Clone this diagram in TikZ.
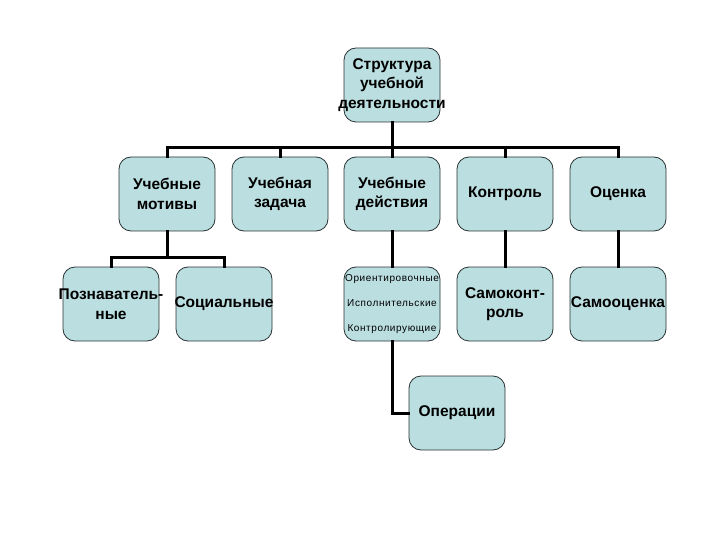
\documentclass[tikz,border=0pt]{standalone}
\usepackage{fontspec}
\setmainfont{Liberation Sans}
\usepackage{xcolor}
\definecolor{boxfill}{RGB}{187,222,224}
\definecolor{boxline}{RGB}{40,50,50}
\newcommand{\boxw}{96pt}
\newcommand{\boxh}{74pt}
\newcommand{\rowa}{-194}
\newcommand{\rowb}{-304}

\begin{document}
\begin{tikzpicture}[x=1pt, y=1pt,
    box/.style={draw=boxline, line width=0.8pt, fill=boxfill, rounded corners=12pt,
        minimum width=\boxw, minimum height=\boxh, inner ysep=0pt, inner xsep=-10pt,
        align=center, font=\fontsize{15.5}{19.5}\selectfont\bfseries},
    smallbox/.style={box, font=\fontsize{10}{25}\selectfont\addfontfeatures{LetterSpace=6}},
    link/.style={line width=3pt, line cap=rect}]
        \useasboundingbox (0, 0) rectangle (720, -540);

        % top
        \node[box] (struct) at (392, -85) {Структура\\учебной\\деятельности};

        % second row
        \node[box] (motives) at (167, \rowa) {Учебные\\мотивы};
        \node[box] (task) at (280, \rowa) {Учебная\\задача};
        \node[box] (actions) at (392, \rowa) {Учебные\\действия};
        \node[box] (control) at (505, \rowa) {Контроль};
        \node[box] (assess) at (618, \rowa) {Оценка};

        % third row
        \node[box] (cognitive) at (111, \rowb) {Познаватель-\\ные};
        \node[box] (social) at (224, \rowb) {Социальные};
        \node[smallbox] (kinds) at (392, \rowb) {Ориентировочные\\Исполнительские\\Контролирующие};
        \node[box] (selfcontrol) at (505, \rowb) {Самоконт-\\роль};
        \node[box] (selfassess) at (618, \rowb) {Самооценка};

        \node[box] (ops) at (457, -413) {Операции};

        % junctions
        \coordinate (bus) at (392, -148);
        \coordinate (mbus) at (167, -257);

        % connectors
        \draw[link] (struct.south) -- (bus);
        \foreach \child in {motives, task, actions, control, assess}
            \draw[link] (bus) -| (\child.north);
        \draw[link] (motives.south) -- (mbus);
        \foreach \child in {cognitive, social}
            \draw[link] (mbus) -| (\child.north);
        \draw[link] (actions.south) -- (kinds.north);
        \draw[link] (control.south) -- (selfcontrol.north);
        \draw[link] (assess.south) -- (selfassess.north);
        \draw[link] (kinds.south) |- (ops.west);
    \end{tikzpicture}
\end{document}
